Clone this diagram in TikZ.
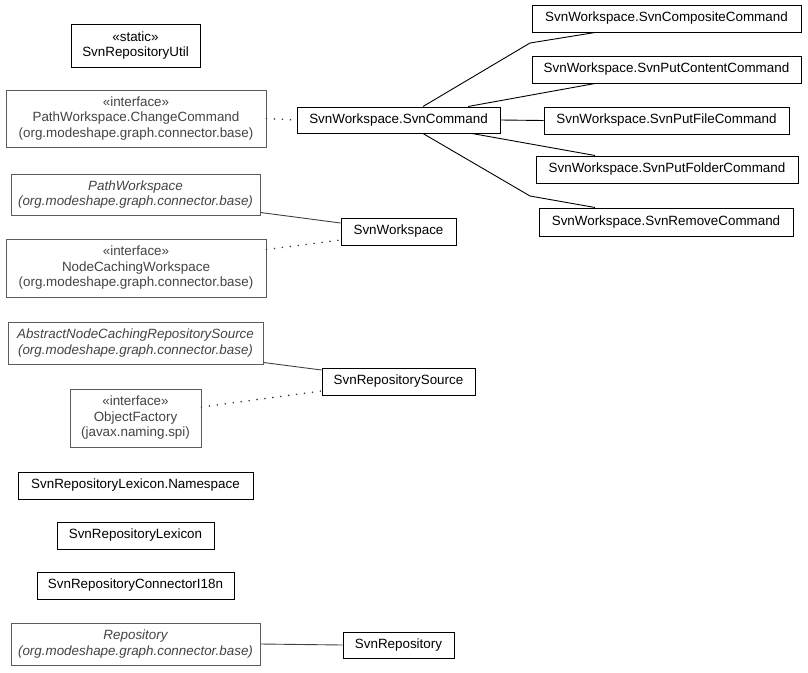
\documentclass[tikz,border=0pt]{standalone}
\usepackage{fontspec}
\setmainfont{Liberation Sans}
\definecolor{extborder}{HTML}{5C5C5C}
\definecolor{exttext}{HTML}{444444}
\definecolor{extedge}{HTML}{404040}
\begin{document}
\begin{tikzpicture}[x=1pt,y=-1pt,
  font=\fontsize{13.4pt}{15.5pt}\selectfont,
  cls/.style={draw=black,line width=1pt,inner sep=0pt,align=center,fill=white},
  ext/.style={draw=extborder,line width=1pt,inner sep=0pt,align=center,text=exttext,fill=white},
  rel/.style={line width=0.9pt,draw=black},
  extrel/.style={line width=0.9pt,draw=extedge},
  real/.style={line width=1.8pt,draw=extedge,line cap=round,dash pattern=on 0pt off 8pt}
]
\useasboundingbox (0,0) rectangle (808,672);
% left column
\node[cls,minimum width=129pt,minimum height=43pt] (util) at (135.5,45.5) {«static»\\SvnRepositoryUtil};
\node[ext,minimum width=260pt,minimum height=57pt] (change) at (136,118.5) {«interface»\\PathWorkspace.ChangeCommand\\(org.modeshape.graph.connector.base)};
\node[ext,minimum width=249pt,minimum height=41pt,font=\fontsize{13.4pt}{15.5pt}\selectfont\itshape] (pathws) at (135.5,194.5) {PathWorkspace\\(org.modeshape.graph.connector.base)};
\node[ext,minimum width=260pt,minimum height=58pt] (nodecach) at (136,268) {«interface»\\NodeCachingWorkspace\\(org.modeshape.graph.connector.base)};
\node[ext,minimum width=255pt,minimum height=42pt,font=\fontsize{13.4pt}{15.5pt}\selectfont\itshape] (abstract) at (135.5,343) {AbstractNodeCachingRepositorySource\\(org.modeshape.graph.connector.base)};
\node[ext,minimum width=131pt,minimum height=58pt] (objfact) at (135.5,418) {«interface»\\ObjectFactory\\(javax.naming.spi)};
\node[cls,minimum width=235pt,minimum height=27pt] (namespace) at (135.5,485.5) {SvnRepositoryLexicon.Namespace};
\node[cls,minimum width=157pt,minimum height=27pt] (lexicon) at (135.5,535.5) {SvnRepositoryLexicon};
\node[cls,minimum width=197pt,minimum height=27pt] (i18n) at (135.5,585.5) {SvnRepositoryConnectorI18n};
\node[ext,minimum width=249pt,minimum height=42pt,font=\fontsize{13.4pt}{15.5pt}\selectfont\itshape] (repository) at (135.5,644) {Repository\\(org.modeshape.graph.connector.base)};
% middle column
\node[cls,minimum width=203pt,minimum height=26pt] (svncmd) at (398.5,120) {SvnWorkspace.SvnCommand};
\node[cls,minimum width=115pt,minimum height=27pt] (svnws) at (398.5,231.5) {SvnWorkspace};
\node[cls,minimum width=153pt,minimum height=27pt] (svnsrc) at (398.5,381.5) {SvnRepositorySource};
\node[cls,minimum width=111pt,minimum height=26pt] (svnrepo) at (398.5,645) {SvnRepository};
% right column
\node[cls,minimum width=269pt,minimum height=27pt] (composite) at (666.5,18.5) {SvnWorkspace.SvnCompositeCommand};
\node[cls,minimum width=269pt,minimum height=27pt] (putcontent) at (666.5,69.5) {SvnWorkspace.SvnPutContentCommand};
\node[cls,minimum width=245pt,minimum height=27pt] (putfile) at (666.5,120.5) {SvnWorkspace.SvnPutFileCommand};
\node[cls,minimum width=262pt,minimum height=27pt] (putfolder) at (667,169.5) {SvnWorkspace.SvnPutFolderCommand};
\node[cls,minimum width=254pt,minimum height=28pt] (remove) at (666,222) {SvnWorkspace.SvnRemoveCommand};
\coordinate (bendc) at (530,43);
\coordinate (bendr) at (530,196);
% edges
\draw[real] (change.east) -- (svncmd.west);
\draw[rel] ([xshift=24.5pt]svncmd.north) -- (bendc) -- ([xshift=-71.5pt]composite.south);
\draw[rel] ([xshift=69.5pt]svncmd.north) -- ([xshift=-71.5pt]putcontent.south);
\draw[rel] (svncmd.east) -- (putfile.west);
\draw[rel] ([xshift=73.5pt]svncmd.south) -- ([xshift=-72pt]putfolder.north);
\draw[rel] ([xshift=24.5pt]svncmd.south) -- (bendr) -- ([xshift=-71pt]remove.north);
\draw[extrel] ([yshift=3pt]pathws.south east) -- ([yshift=8.5pt]svnws.west);
\draw[real] ([yshift=-11pt]nodecach.north east) -- ([yshift=-8.5pt]svnws.west);
\draw[extrel] ([yshift=2pt]abstract.south east) -- ([yshift=11.5pt]svnsrc.west);
\draw[real] ([yshift=11pt]objfact.east) -- ([yshift=-9.5pt]svnsrc.west);
\draw[extrel] (repository.east) -- (svnrepo.west);
\end{tikzpicture}
\end{document}
